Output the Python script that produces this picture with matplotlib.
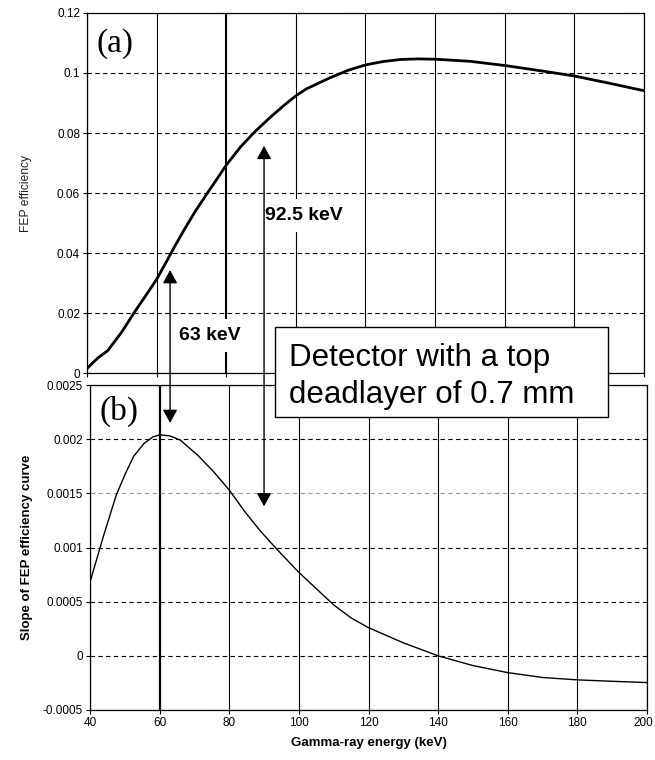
import numpy as np
import matplotlib
matplotlib.use("Agg")
import matplotlib.pyplot as plt
import matplotlib.transforms as mtransforms
from matplotlib.patches import ConnectionPatch, Rectangle

plt.rcParams['font.family'] = ['Liberation Sans', 'DejaVu Sans']

#--------------------------------------------------------------------------#
# (a) FEP efficiency vs gamma-ray energy
energy_a = [40, 43, 46, 50, 54, 57, 60, 63, 65, 68, 71, 75, 78, 80, 84, 88,
            93, 97, 100, 103, 110, 115, 120, 125, 130, 135, 140, 150, 160,
            170, 180, 190, 200]
eff_a = [0.0015, 0.0049, 0.0075, 0.0137, 0.0209, 0.0260, 0.0312, 0.0375,
         0.0418, 0.0479, 0.0537, 0.0607, 0.0658, 0.0693, 0.0752, 0.0802,
         0.0856, 0.0896, 0.0924, 0.0947, 0.0985, 0.1009, 0.1027, 0.1038,
         0.1045, 0.1047, 0.1046, 0.1039, 0.1025, 0.1008, 0.0990, 0.0966,
         0.0941]

# (b) slope of the efficiency curve
energy_b = [40, 42, 44, 47.5, 50, 52.5, 55.5, 58, 60, 63, 66, 71, 75.5, 80,
            84.5, 89, 93.5, 100, 105, 110, 115, 120, 125, 130, 135, 140, 150,
            160, 170, 180, 190, 200]
slope_b = [0.00068, 0.00090, 0.00112, 0.00148, 0.00167, 0.00184, 0.00196,
           0.00202, 0.00204, 0.00203, 0.00199, 0.00185, 0.00170, 0.00153,
           0.00133, 0.00115, 0.00099, 0.00077, 0.00062, 0.00047, 0.00035,
           0.00026, 0.00019, 0.00012, 0.00006, 0.0, -0.00009, -0.000155,
           -0.00020, -0.000222, -0.000235, -0.000247]

x_ticks = [40, 60, 80, 100, 120, 140, 160, 180, 200]
ya_ticks = [0, 0.02, 0.04, 0.06, 0.08, 0.1, 0.12]
ya_labels = ["0", "0.02", "0.04", "0.06", "0.08", "0.1", "0.12"]
yb_ticks = [-0.0005, 0, 0.0005, 0.001, 0.0015, 0.002, 0.0025]
yb_labels = ["-0.0005", "0", "0.0005", "0.001", "0.0015", "0.002", "0.0025"]

# marked energies: arrow x (in b), top end in (a), bottom end in (b), label
mark_x = [63.0, 90.0]
mark_top = [0.0343, 0.0757]
mark_bot = [0.00215, 0.00138]
mark_lab = ["63 keV", "92.5 keV"]
mark_lab_pos = [(75.4, 0.0125), (102.4, 0.0525)]

#--------------------------------------------------------------------------#
def style_axes(ax, yticks, ylabels):
    ax.set_xlim(40, 200)
    ax.set_xticks(x_ticks)
    ax.set_yticks(yticks)
    ax.set_yticklabels(ylabels)
    ax.set_ylim(yticks[0], yticks[-1])
    ax.tick_params(direction='out', length=3, width=0.8, labelsize=8.5, pad=2)
    ax.xaxis.grid(True, color='black', lw=0.8, ls='-')
    ax.yaxis.grid(True, color='black', lw=0.8, ls=(0, (4, 3)))
    ax.set_axisbelow(True)
    for s in ax.spines.values():
        s.set_linewidth(0.9)

fig = plt.figure(figsize=(6.55, 7.6), dpi=100)
ax_a = fig.add_axes([0.1328, 0.5092, 0.8504, 0.4737])
ax_b = fig.add_axes([0.1374, 0.0658, 0.8504, 0.4276])

# top panel
ax_a.plot(energy_a, eff_a, color='black', lw=2.0)
style_axes(ax_a, ya_ticks, ya_labels)
ax_a.set_xticklabels([])
ax_a.xaxis.get_gridlines()[2].set_linewidth(1.5)
ax_a.set_ylabel("FEP efficiency", fontsize=8.7, color='#222222', labelpad=18)
ax_a.text(0.017, 0.915, "(a)", transform=ax_a.transAxes, fontsize=24,
          family='Liberation Serif', va='center')

# bottom panel
ax_b.plot(energy_b, slope_b, color='black', lw=1.0)
style_axes(ax_b, yb_ticks, yb_labels)
ax_b.xaxis.get_gridlines()[1].set_linewidth(1.6)
ax_b.yaxis.get_gridlines()[4].set_color('#999999')
ax_b.set_ylabel("Slope of FEP efficiency curve", fontsize=9.5,
                fontweight='bold', labelpad=7)
ax_b.set_xlabel("Gamma-ray energy (keV)", fontsize=9.5, fontweight='bold',
                labelpad=6)
ax_b.text(0.017, 0.918, "(b)", transform=ax_b.transAxes, fontsize=24,
          family='Liberation Serif', va='center')

# keep the last x label inside the picture
last = ax_b.get_xticklabels()[-1]
last.set_ha('right')
last.set_transform(last.get_transform() +
                   mtransforms.ScaledTranslation(6 / 100, 0, fig.dpi_scale_trans))

# double headed vertical arrows running over both panels
for xe, ya, yb in zip(mark_x, mark_top, mark_bot):
    disp = ax_b.transData.transform((xe, yb))
    xa = ax_a.transData.inverted().transform(disp)[0]
    con = ConnectionPatch(xyA=(xa, ya), coordsA=ax_a.transData,
                          xyB=(xe, yb), coordsB=ax_b.transData,
                          arrowstyle='<|-|>,head_length=0.4,head_width=0.22',
                          mutation_scale=20, color='black', lw=1.0,
                          shrinkA=0, shrinkB=0)
    fig.add_artist(con)

for lab, (lx, ly) in zip(mark_lab, mark_lab_pos):
    ax_a.text(lx, ly, lab, fontsize=14, fontweight='bold',
              ha='center', va='center',
              bbox=dict(facecolor='white', edgecolor='none', pad=6))

# boxed note sitting across both panels
box = Rectangle((274.5 / 655, 1 - 417.5 / 760), 333 / 655, 90 / 760,
                transform=fig.transFigure, facecolor='white',
                edgecolor='black', lw=1.0, zorder=5)
fig.add_artist(box)
fig.text(289 / 655, 1 - 366 / 760, "Detector with a top",
         fontsize=22.5, ha='left', va='baseline', zorder=6)
fig.text(289 / 655, 1 - 403 / 760, "deadlayer of 0.7 mm",
         fontsize=22.5, ha='left', va='baseline', zorder=6)

fig.savefig("out.png", dpi=100)
print("done")
